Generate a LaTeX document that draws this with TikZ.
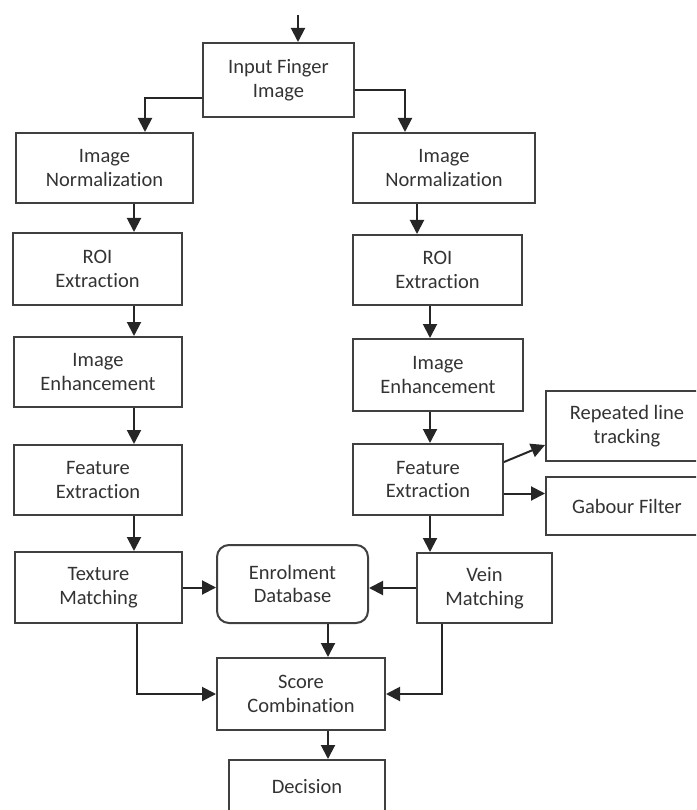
\documentclass[tikz,border=0pt]{standalone}
\usepackage{fontspec}
\setmainfont{Carlito}[Ligatures={NoCommon,NoRare}]
\usetikzlibrary{arrows.meta}

\begin{document}
\begin{tikzpicture}[x=1pt,y=-1pt,
  >={Triangle[length=14pt,width=14pt]},
  line width=2pt, draw=black!85,
  blk/.style={draw=black!75, line width=2pt, align=center, inner sep=0pt,
    text=black!80, font=\fontsize{20.5}{23.5}\selectfont},
  dbase/.style={blk, rounded corners=12pt}]
  \useasboundingbox (0,0) rectangle (696,810);
  \clip (0,0) rectangle (696,810);

  \node[blk, minimum width=151pt, minimum height=74pt] (in) at (278.5,80) {Input Finger\\Image}; % Input image

  % left column (texture)
  \node[blk, minimum width=177pt, minimum height=70pt] (nL) at (104.5,168) {Image\\Normalization};
  \node[blk, minimum width=169pt, minimum height=72pt] (roiL) at (97.5,269) {ROI\\Extraction};
  \node[blk, minimum width=168pt, minimum height=70pt] (enhL) at (98,372) {Image\\Enhancement};
  \node[blk, minimum width=168pt, minimum height=70pt] (featL) at (98,480) {Feature\\Extraction};
  \node[blk, minimum width=167pt, minimum height=71pt] (tex) at (98.5,587.5) {Texture\\Matching};

  % right column (vein)
  \node[blk, minimum width=182pt, minimum height=70pt] (nR) at (444,168) {Image\\Normalization};
  \node[blk, minimum width=169pt, minimum height=70pt] (roiR) at (437.5,270) {ROI\\Extraction};
  \node[blk, minimum width=170pt, minimum height=72pt] (enhR) at (438,375) {Image\\Enhancement};
  \node[blk, minimum width=150pt, minimum height=71pt] (featR) at (428,479.5) {Feature\\Extraction};
  \node[blk, minimum width=135pt, minimum height=70pt] (vein) at (484.5,588) {Vein\\Matching};
  \node[blk, minimum width=162pt, minimum height=70pt] (rep) at (627,426) {Repeated line\\tracking};
  \node[blk, minimum width=162pt, minimum height=58pt] (gab) at (627,506) {Gabour Filter};

  % middle
  \node[dbase, minimum width=151pt, minimum height=78pt] (db) at (292.5,584) {Enrolment\\Database};
  \node[blk, minimum width=168pt, minimum height=72pt] (score) at (301,694) {Score\\Combination};
  \node[blk, minimum width=156pt, minimum height=54pt] (dec) at (307,787) {Decision}; % cut by the page edge

  \coordinate (src) at (298,15);  % incoming image
  \coordinate (colL) at (134,0);  % left arrows
  \coordinate (colN) at (417,0);
  \coordinate (colR) at (430,0);  % right arrows
  \coordinate (colM) at (328,0);  % middle arrows

  \draw[->] (src) -- (src |- in.north);
  \draw[->] ([yshift=-18pt]in.west) -| ([xshift=40.5pt]nL.north);
  \draw[->] ([yshift=-10pt]in.east) -| ([xshift=-39pt]nR.north);

  \draw[->] (nL.south -| colL) -- (roiL.north -| colL);
  \draw[->] (roiL.south -| colL) -- (enhL.north -| colL);
  \draw[->] (enhL.south -| colL) -- (featL.north -| colL);
  \draw[->] (featL.south -| colL) -- (tex.north -| colL);

  \draw[->] (nR.south -| colN) -- (roiR.north -| colN);
  \draw[->] (roiR.south -| colR) -- (enhR.north -| colR);
  \draw[->] (enhR.south -| colR) -- (featR.north -| colR);
  \draw[->] (featR.south -| colR) -- (vein.north -| colR);
  \draw[->] ([yshift=17.5pt]featR.east) -- ([yshift=-19pt]rep.west);
  \draw[->] ([yshift=-14pt]featR.east) -- ([yshift=-14pt]featR.east -| gab.west);

  \draw[->] (tex.east) -- (tex.east -| db.west);
  \draw[->] (vein.west) -- (vein.west -| db.east);
  \draw[->] ([xshift=38pt]tex.south) |- (score.west);
  \draw[->] ([xshift=-42.5pt]vein.south) |- (score.east);
  \draw[->] (db.south -| colM) -- (score.north -| colM);
  \draw[->] (score.south -| colM) -- (dec.north -| colM);
\end{tikzpicture}
\end{document}
